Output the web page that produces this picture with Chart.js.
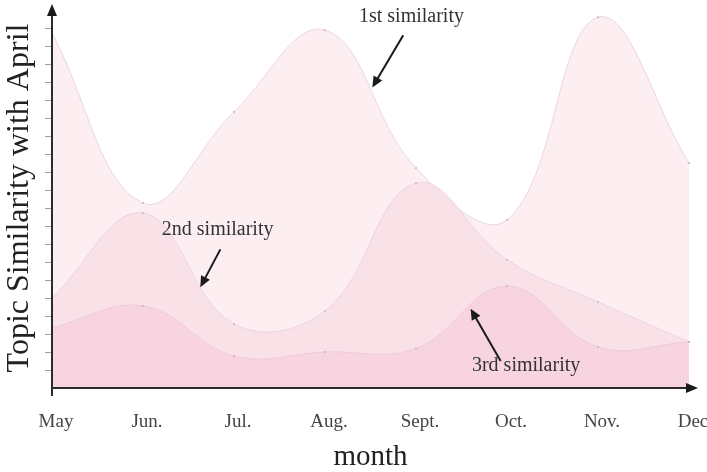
<!DOCTYPE html>
<html>
<head>
<meta charset="utf-8">
<script src="https://cdn.jsdelivr.net/npm/chart.js@4.4.1/dist/chart.umd.min.js"></script>
<style>
  body { margin: 0; background: #fff; }
  #wrap { width: 707px; height: 472px; }
</style>
</head>
<body>
<div id="wrap"><canvas id="myChart"></canvas></div>
<script>
const months = ['May', 'Jun.', 'Jul.', 'Aug.', 'Sept.', 'Oct.', 'Nov.', 'Dec'];
const firstSimilarity = [0.986, 0.514, 0.767, 0.994, 0.611, 0.467, 1.03, 0.625];
const secondSimilarity = [0.25, 0.486, 0.178, 0.214, 0.569, 0.356, 0.239, 0.128];
const thirdSimilarity = [0.167, 0.228, 0.089, 0.1, 0.11, 0.283, 0.114, 0.128];
const yTicks = [0.05, 0.1, 0.15, 0.2, 0.25, 0.3, 0.35, 0.4, 0.45, 0.5, 0.55, 0.6, 0.65, 0.7, 0.75, 0.8, 0.85, 0.9, 0.95, 1.0];

// annotation labels and arrows, in data units (x = month index, y = similarity)
const notes = [
  { text: '1st similarity', at: [3.95, 1.03], from: [3.86, 0.98], to: [3.52, 0.835] },
  { text: '2nd similarity', at: [1.82, 0.44], from: [1.85, 0.385], to: [1.63, 0.28] },
  { text: '3rd similarity', at: [5.21, 0.063], from: [4.93, 0.075], to: [4.6, 0.22] }
];

const serif = '"Liberation Serif", "DejaVu Serif", serif';

function arrowHead(ctx, x1, y1, x2, y2, len, half) {
  const a = Math.atan2(y2 - y1, x2 - x1);
  ctx.beginPath();
  ctx.moveTo(x2, y2);
  ctx.lineTo(x2 - len * Math.cos(a) + half * Math.sin(a), y2 - len * Math.sin(a) - half * Math.cos(a));
  ctx.lineTo(x2 - len * Math.cos(a) - half * Math.sin(a), y2 - len * Math.sin(a) + half * Math.cos(a));
  ctx.closePath();
  ctx.fill();
}

const decorations = {
  id: 'decorations',
  afterDatasetsDraw(chart) {
    const ctx = chart.ctx;
    const xs = chart.scales.x;
    const ys = chart.scales.y;
    const { left, bottom } = chart.chartArea;
    ctx.save();

    // y tick marks
    ctx.strokeStyle = '#a0a0a0';
    ctx.lineWidth = 1;
    yTicks.forEach(v => {
      const y = Math.round(ys.getPixelForValue(v)) + 0.5;
      ctx.beginPath();
      ctx.moveTo(left - 7, y);
      ctx.lineTo(left - 1, y);
      ctx.stroke();
    });

    // axes with arrows
    ctx.strokeStyle = '#2b2b2b';
    ctx.fillStyle = '#1a1a1a';
    ctx.lineWidth = 2;
    ctx.beginPath();
    ctx.moveTo(left, bottom + 8);
    ctx.lineTo(left, 14);
    ctx.stroke();
    arrowHead(ctx, left, 40, left, 4, 12, 5);
    ctx.beginPath();
    ctx.moveTo(left - 1, bottom);
    ctx.lineTo(688, bottom);
    ctx.stroke();
    arrowHead(ctx, 660, bottom, 698, bottom, 12, 5);

    // annotations
    ctx.font = '20px ' + serif;
    ctx.textAlign = 'center';
    ctx.textBaseline = 'middle';
    notes.forEach(n => {
      ctx.fillStyle = '#333';
      ctx.fillText(n.text, xs.getPixelForValue(n.at[0]), ys.getPixelForValue(n.at[1]));
      const x1 = xs.getPixelForValue(n.from[0]), y1 = ys.getPixelForValue(n.from[1]);
      const x2 = xs.getPixelForValue(n.to[0]), y2 = ys.getPixelForValue(n.to[1]);
      ctx.strokeStyle = '#1a1a1a';
      ctx.lineWidth = 2;
      const a = Math.atan2(y2 - y1, x2 - x1);
      ctx.beginPath();
      ctx.moveTo(x1, y1);
      ctx.lineTo(x2 - 8 * Math.cos(a), y2 - 8 * Math.sin(a));
      ctx.stroke();
      ctx.fillStyle = '#1a1a1a';
      arrowHead(ctx, x1, y1, x2, y2, 11, 5);
    });
    ctx.restore();
  }
};

const ctx = document.getElementById('myChart').getContext('2d');
new Chart(ctx, {
  type: 'line',
  data: {
    labels: months,
    datasets: [{
      label: '1st similarity',
      data: firstSimilarity,
      fill: 'origin',
      backgroundColor: 'rgb(252, 238, 241)',
      borderColor: 'rgb(236, 214, 221)',
      borderWidth: 1,
      pointRadius: 1,
      pointBackgroundColor: '#c7b3b9',
      pointBorderWidth: 0,
      tension: 0.4,
      order: 3
    }, {
      label: '2nd similarity',
      data: secondSimilarity,
      fill: 'origin',
      backgroundColor: 'rgb(249, 225, 232)',
      borderColor: 'rgb(240, 212, 221)',
      borderWidth: 1,
      pointRadius: 1,
      pointBackgroundColor: '#cdb6bd',
      pointBorderWidth: 0,
      tension: 0.4,
      order: 2
    }, {
      label: '3rd similarity',
      data: thirdSimilarity,
      fill: 'origin',
      backgroundColor: 'rgb(247, 212, 224)',
      borderColor: 'rgb(241, 203, 216)',
      borderWidth: 1,
      pointRadius: 1,
      pointBackgroundColor: '#d0b0bb',
      pointBorderWidth: 0,
      tension: 0.4,
      order: 1
    }]
  },
  options: {
    responsive: true,
    maintainAspectRatio: false,
    animation: false,
    layout: { padding: { top: 8, right: 18, left: 0, bottom: 0 } },
    plugins: {
      legend: { display: false },
      tooltip: { enabled: false }
    },
    scales: {
      x: {
        offset: false,
        grid: { display: false, drawTicks: false },
        border: { display: false },
        ticks: {
          color: '#444',
          font: { family: serif, size: 19, lineHeight: 68 / 19 },
          padding: 0,
          labelOffset: 4,
          maxRotation: 0,
          autoSkip: false
        },
        title: {
          display: true,
          text: 'month',
          color: '#222',
          font: { family: serif, size: 29, lineHeight: 1 },
          padding: { top: -13, bottom: 0 }
        }
      },
      y: {
        min: 0,
        max: 380 / 360,
        grid: { display: false, drawTicks: false },
        border: { display: false },
        ticks: { display: false },
        title: {
          display: true,
          text: 'Topic Similarity with April',
          color: '#222',
          font: { family: serif, size: 32 },
          padding: { top: 0, bottom: 13.6 }
        }
      }
    }
  },
  plugins: [decorations]
});
</script>
</body>
</html>
